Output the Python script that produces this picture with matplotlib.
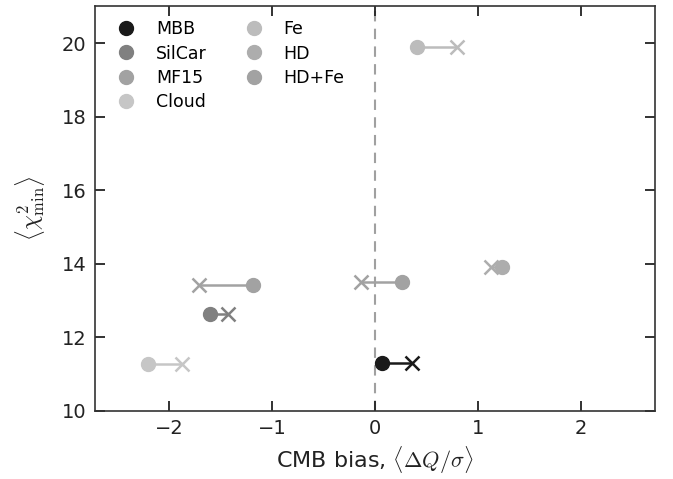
import matplotlib
matplotlib.use("Agg")
import matplotlib.pyplot as plt

plt.rcParams["mathtext.fontset"] = "cm"
plt.rcParams["font.family"] = ["DejaVu Sans"]

# Dust models: bias and chi^2 for the two fits (circle -> cross)
models = ["MBB", "SilCar", "MF15", "Cloud", "Fe", "HD", "HD+Fe"]
colors = ["#1a1a1a", "#808080", "#a2a2a2", "#c6c6c6", "#bcbcbc", "#adadad", "#a2a2a2"]
bias_start = [0.07, -1.60, -1.18, -2.20, 0.41, 1.24, 0.26]
bias_end = [0.36, -1.43, -1.71, -1.87, 0.80, 1.13, -0.13]
chi2 = [11.30, 12.64, 13.43, 11.27, 19.89, 13.90, 13.51]

fig = plt.figure(figsize=(6.73, 4.79), dpi=100)
ax = fig.add_axes([0.141, 0.142, 0.832, 0.845])

ax.axvline(0, color="#a0a0a0", ls="--", lw=1.5, dashes=(5, 3.5), zorder=1)

for name, c, x0, x1, y in zip(models, colors, bias_start, bias_end, chi2):
    ax.plot([x0, x1], [y, y], color=c, lw=1.8, zorder=2)
    ax.plot([x1], [y], marker="x", ms=10, mew=1.8, color=c, ls="none", zorder=3)
    ax.plot([x0], [y], marker="o", ms=10, color=c, ls="none", zorder=4, label=name)

ax.set_xlim(-2.72, 2.72)
ax.set_ylim(10, 21)
ax.set_xticks([-2, -1, 0, 1, 2])
ax.set_xticklabels(["\u22122", "\u22121", "0", "1", "2"])
ax.set_yticks([10, 12, 14, 16, 18, 20])

ax.tick_params(direction="in", length=7, width=1.3, top=True, right=True,
               labelsize=14, colors="#222222", pad=6)
for s in ax.spines.values():
    s.set_color("#333333")
    s.set_linewidth(1.2)

ax.set_xlabel(r"CMB bias, $\langle\Delta Q/\sigma\rangle$", fontsize=16, color="#222222")
ax.set_ylabel(r"$\langle\chi^2_{\rm min}\rangle$", fontsize=17, color="#222222", labelpad=11)

ax.legend(loc="upper left", ncol=2, frameon=False, fontsize=12.5, handletextpad=0.7,
          columnspacing=1.7, labelspacing=0.35, borderaxespad=0.42, numpoints=1)

fig.savefig("out.png", dpi=100)
